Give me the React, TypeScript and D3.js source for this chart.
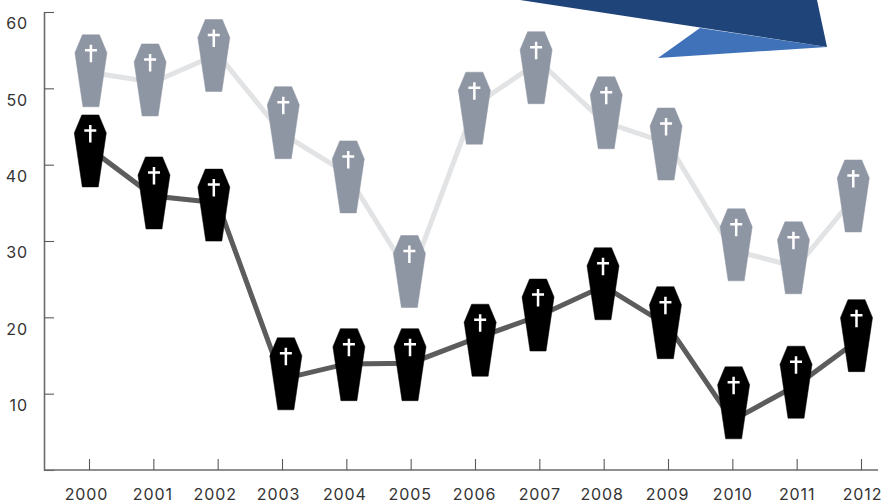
import * as d3 from "d3";
import { useEffect, useRef } from "react";

const years = [2000, 2001, 2002, 2003, 2004, 2005, 2006, 2007, 2008, 2009, 2010, 2011, 2012];
const yTicks = [10, 20, 30, 40, 50, 60];

// line values
const greyValues = [52.1, 50.8, 54.5, 44.1, 38.9, 25.3, 47.8, 53.5, 45.6, 42.8, 28.8, 26.6, 36.8];
const blackValues = [42.2, 35.9, 35, 11.9, 13.9, 14, 17.2, 20.2, 24.1, 18.9, 6.5, 11.1, 17.3];

// coffins are placed by hand in the original, so they sit a bit off the line points
const greyCoffinYears = [2000.03, 2000.95, 2001.94, 2003.02, 2004.03, 2004.98, 2005.99, 2006.95, 2008.04, 2008.97, 2010.06, 2010.95, 2011.88];
const greyCoffinValues = [52.3, 51.1, 54.3, 45.5, 38.4, 26, 47.4, 52.7, 46.8, 42.7, 29.5, 27.8, 35.9];
const blackCoffinYears = [2000.02, 2001.01, 2001.94, 2003.06, 2004.04, 2004.99, 2006.08, 2006.98, 2007.99, 2008.96, 2010.02, 2010.99, 2011.93];
const blackCoffinValues = [41.8, 36.3, 34.7, 12.6, 13.8, 13.8, 17, 20.3, 24.4, 19.3, 8.8, 11.5, 17.6];

const FONT = "Inter, sans-serif";

export default function App() {
  const ref = useRef<SVGSVGElement>(null);

  useEffect(() => {
    if (!ref.current) return;

    const svg = d3.select(ref.current);
    svg.selectAll("*").remove();

    const x = d3.scaleLinear().domain([2000, 2012]).range([89, 861]);
    const y = d3.scaleLinear().domain([0, 60]).range([470, 12]);

    // -----------------------------
    // Blue banner, cut off at the top
    svg.append("polygon").attr("points", "700,28 827,47 658,58").attr("fill", "#3f72b9");
    svg.append("polygon").attr("points", "520,0 817,0 827,47").attr("fill", "#1f4479");

    // -----------------------------
    // Axes
    const yAxis = svg
      .append("g")
      .attr("transform", "translate(44,0)")
      .call(
        d3
          .axisLeft(y)
          .tickValues([0, ...yTicks])
          .tickSize(-10)
          .tickSizeOuter(0)
          .tickPadding(16)
          .tickFormat((d) => (d === 0 ? "" : String(d)))
      );

    const xAxis = svg
      .append("g")
      .attr("transform", "translate(0,470)")
      .call(
        d3
          .axisBottom(x)
          .tickValues(years)
          .tickSize(-11)
          .tickSizeOuter(0)
          .tickPadding(19)
          .tickFormat((d) => String(d))
      );

    xAxis.select(".domain").attr("d", "M44,0H878");

    [xAxis, yAxis].forEach((axis) => {
      axis.select(".domain").attr("stroke", "#6b6b6b").attr("stroke-width", 1.6);
      axis.selectAll(".tick line").attr("stroke", "#5a5a5a").attr("stroke-width", 1.1);
      axis
        .selectAll("text")
        .style("font-family", FONT)
        .style("font-size", "16px")
        .style("letter-spacing", "0.9px")
        .attr("fill", "#333");
    });
    yAxis.selectAll("text").attr("dy", "1.05em");

    // year labels were nudged by hand in the original
    const labelNudge = [-3, -1, -3, -4, -2, -1, -1, 0, -2, -1, 0, 0, 1];
    xAxis.selectAll("text").attr("dx", (_, i) => labelNudge[i]);

    // -----------------------------
    // Lines
    const line = d3
      .line<number>()
      .x((_, i) => x(years[i]))
      .y((d) => y(d));

    const series = [
      { values: greyValues, coffinYears: greyCoffinYears, coffinValues: greyCoffinValues, stroke: "#e1e3e4", fill: "#8e95a3" },
      { values: blackValues, coffinYears: blackCoffinYears, coffinValues: blackCoffinValues, stroke: "#5c5c5c", fill: "#000" },
    ];

    series.forEach((s) => {
      svg
        .append("path")
        .attr("d", line(s.values))
        .attr("fill", "none")
        .attr("stroke", s.stroke)
        .attr("stroke-width", 5);
    });

    // -----------------------------
    // Coffins
    const coffinPath = "M-8.5,-36H8.5L16,-18L8,36H-8L-16,-18Z";

    series.forEach((s) => {
      const coffins = svg
        .append("g")
        .selectAll("g")
        .data(s.coffinValues)
        .join("g")
        .attr("transform", (d, i) => `translate(${x(s.coffinYears[i])},${y(d)})`);

      coffins
        .append("path")
        .attr("d", coffinPath)
        .attr("fill", s.fill)
        .attr("stroke", s.fill)
        .attr("stroke-width", 0.5)
        .attr("stroke-linejoin", "round");

      coffins
        .append("path")
        .attr("d", "M0,-26V-8.5M-6,-20.5H6")
        .attr("stroke", "#fff")
        .attr("stroke-width", 2.5)
        .attr("fill", "none");
    });
  }, []);

  return (
    <svg
      ref={ref}
      width={881}
      height={501}
      style={{ position: "absolute", left: 0, top: 0, background: "#fff" }}
    />
  );
}
